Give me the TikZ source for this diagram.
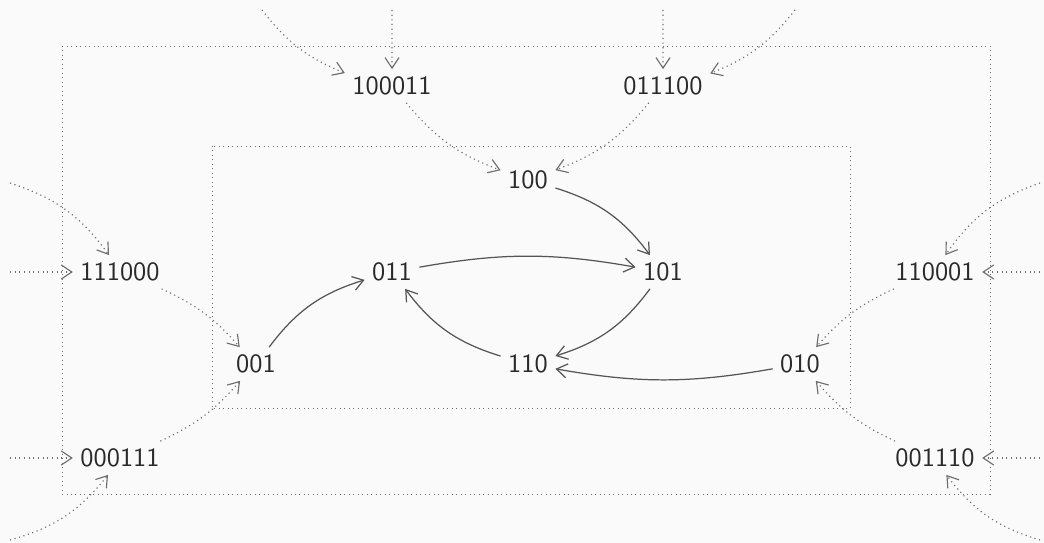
\documentclass[tikz,border=0pt]{standalone}
\usepackage{tikz}
\usetikzlibrary{arrows.meta}
\definecolor{bgcol}{HTML}{FAFAFA}
\definecolor{txtcol}{HTML}{2A2A2A}
\definecolor{linecol}{HTML}{555555}
\definecolor{dotcol}{HTML}{6E6E6E}
\begin{document}
\begin{tikzpicture}[x=0.02cm, y=-0.02cm,
    state/.style={text=txtcol, font=\sffamily, scale=1.5, transform shape, inner sep=2.7pt},
    move/.style={draw=linecol, line width=0.7pt, -{Straight Barb[length=6pt, width=8pt]}},
    feed/.style={draw=dotcol, dotted, line width=0.65pt, -{Straight Barb[length=6pt, width=8pt]}},
    frame/.style={draw=dotcol, dotted, line width=0.55pt}]
            \fill[bgcol] (0,0) rectangle (1044,543);
            \useasboundingbox (0,0) rectangle (1044,543);
            \draw[frame] (62,46) rectangle (990,494);
            \draw[frame] (212,146) rectangle (850,408);
            \node[state] (s100011) at (392,86) {100011};
            \node[state] (s011100) at (663,86) {011100};
            \node[state] (s100) at (528,180) {100};
            \node[state] (s111000) at (120,272) {111000};
            \node[state] (s011) at (392,272) {011};
            \node[state] (s101) at (663,272) {101};
            \node[state] (s110001) at (935,272) {110001};
            \node[state] (s001) at (256,364) {001};
            \node[state] (s110) at (528,364) {110};
            \node[state] (s010) at (800,364) {010};
            \node[state] (s000111) at (120,458) {000111};
            \node[state] (s001110) at (935,458) {001110};
            \coordinate (i100011a) at (262,10);
            \coordinate (i100011b) at (392,10);
            \coordinate (i011100a) at (663,10);
            \coordinate (i011100b) at (795,10);
            \coordinate (i111000a) at (10,183);
            \coordinate (i111000b) at (10,272);
            \coordinate (i110001a) at (1040,183);
            \coordinate (i110001b) at (1040,272);
            \coordinate (i000111a) at (10,458);
            \coordinate (i000111b) at (10,540);
            \coordinate (i001110a) at (1040,458);
            \coordinate (i001110b) at (1040,540);
            \draw[feed] (i100011a) to[bend right=15] (s100011);
            \draw[feed] (i100011b) -- (s100011);
            \draw[feed] (i011100a) -- (s011100);
            \draw[feed] (i011100b) to[bend left=15] (s011100);
            \draw[feed] (i111000a) to[bend left=18] (s111000);
            \draw[feed] (i111000b) -- (s111000);
            \draw[feed] (i110001a) to[bend right=18] (s110001);
            \draw[feed] (i110001b) -- (s110001);
            \draw[feed] (i000111a) -- (s000111);
            \draw[feed] (i000111b) to[bend right=18] (s000111);
            \draw[feed] (i001110a) -- (s001110);
            \draw[feed] (i001110b) to[bend left=18] (s001110);
            \draw[feed] (s100011) to[bend right=15] (s100);
            \draw[feed] (s011100) to[bend left=15] (s100);
            \draw[feed] (s111000) to[bend left=12] (s001);
            \draw[feed] (s000111) to[bend right=12] (s001);
            \draw[feed] (s110001) to[bend right=12] (s010);
            \draw[feed] (s001110) to[bend left=12] (s010);
            \draw[move] (s100) to[bend left=18] (s101);
            \draw[move] (s011) to[bend left=10] (s101);
            \draw[move] (s101) to[bend left=18] (s110);
            \draw[move] (s110) to[bend left=18] (s011);
            \draw[move] (s001) to[bend left=18] (s011);
            \draw[move] (s010) to[bend left=10] (s110);
\end{tikzpicture}
\end{document}
